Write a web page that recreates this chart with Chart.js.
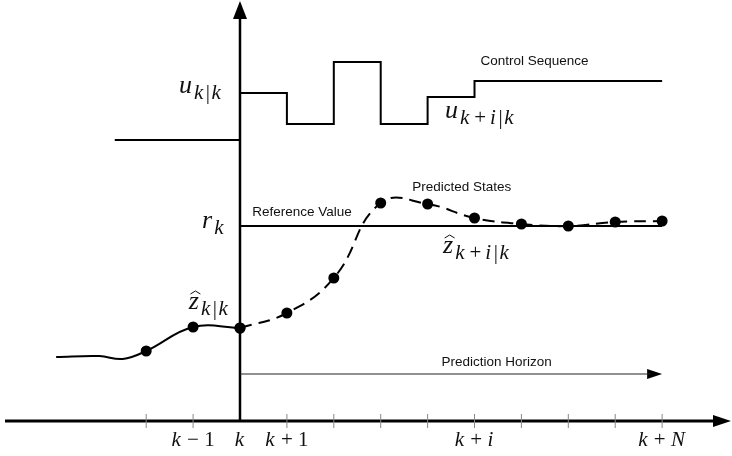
<!DOCTYPE html>
<html>
<head>
<meta charset="utf-8">
<script src="https://cdn.jsdelivr.net/npm/chart.js@4.4.1/dist/chart.umd.min.js"></script>
<style>
  html, body { margin: 0; padding: 0; background: #fff; }
</style>
</head>
<body>
<canvas id="mpc" width="732" height="456"></canvas>
<script>
// pas de temps (k = 0)
const stepTicks = [-2, -1, 0, 1, 2, 3, 4, 5, 6, 7, 8, 9];
const stepLabels = { '-1': 'k − 1', '0': 'k', '1': 'k + 1', '5': 'k + i', '9': 'k + N' };

// séquence de commande (en escalier)
const controlSteps = [-2.67, 0, 1, 2, 3, 4, 5, 9];
const controlValues = [28.1, 32.8, 29.7, 35.9, 29.7, 32.4, 34.0, 34.0];

// sortie passée (mesurée)
const pastSteps = [-3.92, -3.0, -2.5, -2, -1, 0];
const pastValues = [6.4, 6.5, 6.2, 7.0, 9.4, 9.3];
const pastMarked = [false, false, false, true, true, true];

// états prédits
const predSteps = [0, 1, 2, 3, 4, 5, 6, 7, 8, 9];
const predValues = [9.3, 10.8, 14.3, 21.8, 21.7, 20.3, 19.7, 19.5, 19.9, 20.0];

// consigne et horizon
const refValue = 19.5;
const horizonLevel = 4.7;
const horizonEnd = 9;

const isLetter = (ch) => /[a-zA-Z]/.test(ch);

// Fonction pour choisir la police (lettres en italique, le reste droit)
function fontFor(ch, size) {
    return (isLetter(ch) ? 'italic ' : '') + size + 'px "Liberation Serif"';
}

// espacement après chaque caractère (indices un peu aérés)
function gapAfter(ch, next, extra) {
    let g = isLetter(ch) ? 1 : 0;
    if (extra) {
        g += 1.5;
        if (ch === '+' || next === '+') g += 2.5;
    }
    return g;
}

function runWidth(ctx, text, size, extra) {
    let w = 0;
    const chars = [...text];
    chars.forEach((ch, i) => {
        ctx.font = fontFor(ch, size);
        w += ctx.measureText(ch).width + gapAfter(ch, chars[i + 1], extra);
    });
    return w;
}

function drawRun(ctx, text, size, x, y, extra) {
    const chars = [...text];
    chars.forEach((ch, i) => {
        ctx.font = fontFor(ch, size);
        ctx.fillText(ch, x, y);
        x += ctx.measureText(ch).width + gapAfter(ch, chars[i + 1], extra);
    });
    return x;
}

// Fonction pour dessiner une variable avec indice (et chapeau éventuel)
function drawMath(ctx, base, sub, x, y, hat) {
    ctx.textAlign = 'left';
    ctx.textBaseline = 'alphabetic';
    const x0 = x;
    x = drawRun(ctx, base, 26, x, y, false);
    if (hat) {
        const cx = (x0 + x) / 2 + 1;
        ctx.beginPath();
        ctx.lineWidth = 1;
        ctx.moveTo(cx - 5, y - 15);
        ctx.lineTo(cx, y - 18);
        ctx.lineTo(cx + 5, y - 15);
        ctx.stroke();
    }
    drawRun(ctx, sub, 21, x + 1, y + 6, true);
}

const ctx = document.getElementById('mpc').getContext('2d');

const diagramPlugin = {
    id: 'diagram',
    beforeDatasetsDraw(chart) {
        const c = chart.ctx;
        const xs = chart.scales.x;
        const ys = chart.scales.y;
        const x0 = xs.getPixelForValue(0);
        const y0 = ys.getPixelForValue(0);
        c.save();
        c.strokeStyle = '#000';
        c.fillStyle = '#000';

        // axe horizontal avec flèche
        c.lineWidth = 3;
        c.beginPath();
        c.moveTo(5, y0);
        c.lineTo(716, y0);
        c.stroke();
        c.beginPath();
        c.moveTo(731, y0);
        c.lineTo(713, y0 - 6);
        c.lineTo(713, y0 + 6);
        c.closePath();
        c.fill();

        // axe vertical avec flèche
        c.lineWidth = 2.5;
        c.beginPath();
        c.moveTo(x0, y0);
        c.lineTo(x0, 16);
        c.stroke();
        c.beginPath();
        c.moveTo(x0, 1);
        c.lineTo(x0 - 7, 19);
        c.lineTo(x0 + 7, 19);
        c.closePath();
        c.fill();

        // graduations
        c.strokeStyle = '#888';
        c.lineWidth = 1;
        stepTicks.forEach((t) => {
            if (t === 0) return;
            const px = xs.getPixelForValue(t);
            c.beginPath();
            c.moveTo(px, y0 - 7);
            c.lineTo(px, y0 + 7);
            c.stroke();
        });

        // étiquettes des graduations
        c.fillStyle = '#111';
        c.textBaseline = 'alphabetic';
        Object.keys(stepLabels).forEach((key) => {
            const txt = stepLabels[key];
            const px = xs.getPixelForValue(Number(key));
            const w = runWidth(c, txt, 21, false);
            drawRun(c, txt, 21, px - w / 2, y0 + 25, false);
        });

        // flèche de l'horizon de prédiction
        const hx = xs.getPixelForValue(horizonEnd);
        const hy = ys.getPixelForValue(horizonLevel);
        c.fillStyle = '#000';
        c.beginPath();
        c.moveTo(hx, hy);
        c.lineTo(hx - 15, hy - 5);
        c.lineTo(hx - 15, hy + 5);
        c.closePath();
        c.fill();
        c.restore();
    },
    afterDatasetsDraw(chart) {
        const c = chart.ctx;
        const xs = chart.scales.x;
        const ys = chart.scales.y;
        const px = (v) => xs.getPixelForValue(v);
        const py = (v) => ys.getPixelForValue(v);
        c.save();
        c.fillStyle = '#111';
        c.strokeStyle = '#111';

        // textes explicatifs
        c.font = '13.5px "Liberation Sans"';
        c.textAlign = 'center';
        c.textBaseline = 'middle';
        c.fillText('Control Sequence', px(6.28), py(36.0));
        c.fillText('Predicted States', px(4.73), py(23.33));
        c.fillText('Reference Value', px(1.32), py(20.83));
        c.fillText('Prediction Horizon', px(5.47), py(5.9));

        // variables
        drawMath(c, 'u', 'k|k', px(-1.3), py(32.8), false);
        drawMath(c, 'u', 'k+i|k', px(4.37), py(30.3), false);
        drawMath(c, 'r', 'k', px(-0.81), py(19.3), false);
        drawMath(c, 'z', 'k|k', px(-1.09), py(11.2), true);
        drawMath(c, 'z', 'k+i|k', px(4.33), py(16.8), true);
        c.restore();
    }
};

const chart = new Chart(ctx, {
    type: 'line',
    data: {
        datasets: [
            {
                label: 'Control Sequence',
                data: controlSteps.map((x, i) => ({ x: x, y: controlValues[i] })),
                stepped: true,
                borderColor: '#000',
                borderWidth: 2,
                pointRadius: 0,
            },
            {
                label: 'Reference Value',
                data: [{ x: 0, y: refValue }, { x: horizonEnd, y: refValue }],
                borderColor: '#000',
                borderWidth: 2,
                pointRadius: 0,
            },
            {
                label: 'Prediction Horizon',
                data: [{ x: 0, y: horizonLevel }, { x: horizonEnd - 0.25, y: horizonLevel }],
                borderColor: '#222',
                borderWidth: 1,
                pointRadius: 0,
            },
            {
                label: 'Past',
                data: pastSteps.map((x, i) => ({ x: x, y: pastValues[i] })),
                borderColor: '#000',
                borderWidth: 2,
                tension: 0.4,
                pointRadius: pastMarked.map((m) => (m ? 5.5 : 0)),
                pointBackgroundColor: '#000',
                pointBorderWidth: 0,
            },
            {
                label: 'Predicted States',
                data: predSteps.map((x, i) => ({ x: x, y: predValues[i] })),
                borderColor: '#000',
                borderWidth: 2,
                borderDash: [12, 7],
                tension: 0.45,
                pointRadius: 5.5,
                pointBackgroundColor: '#000',
                pointBorderWidth: 0,
            },
        ],
    },
    options: {
        responsive: false,
        animation: false,
        devicePixelRatio: 1,
        layout: { padding: 0, autoPadding: false },
        plugins: {
            legend: { display: false },
            tooltip: { enabled: false },
        },
        scales: {
            x: { type: 'linear', display: false, min: -5.117, max: 10.49 },
            y: { type: 'linear', display: false, min: -3.5, max: 42.1 },
        },
    },
    plugins: [diagramPlugin],
});
</script>
</body>
</html>
